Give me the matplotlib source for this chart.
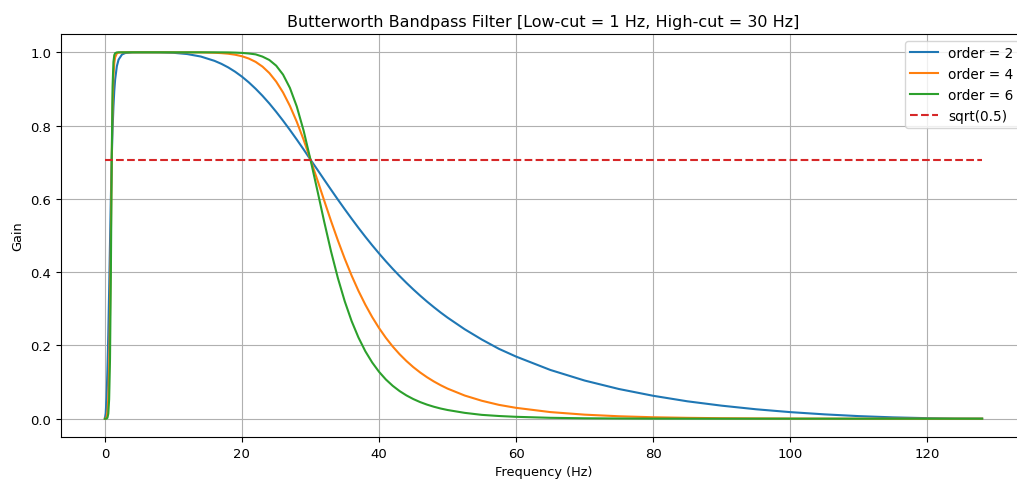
import numpy as np
import matplotlib
matplotlib.use("Agg")
import matplotlib.pyplot as plt

# Sampling rate and cut-off frequencies (Hz)
fs = 256.0
lowcut = 1.0
highcut = 30.0

# Frequency grid (Hz) at which the gain of each filter is tabulated
freq = [0, 0.125, 0.25, 0.375, 0.5, 0.625, 0.75, 0.875, 1, 1.125, 1.25, 1.375, 1.5, 1.75, 2, 2.5, 3,
        4, 5, 6, 8, 10, 12, 14, 16,
        17, 18, 19, 20, 21, 22, 23, 24, 25, 26, 27, 28, 29, 30,
        31, 32, 33, 34, 35, 36, 37, 38, 39, 40, 41, 42, 43, 44, 45, 46, 47, 48, 49, 50,
        52.5, 55, 57.5, 60, 65, 70, 75, 80, 85, 90, 95, 100, 105, 110, 115, 120, 124, 128]

gain_order2 = [0.0, 0.0147, 0.0587, 0.1319, 0.2317, 0.3515, 0.4797, 0.6021, 0.7071, 0.7899,
               0.8512, 0.8953, 0.9259, 0.9621, 0.9800, 0.9941, 0.9982,
               0.9999, 1.0, 1.0, 0.9998, 0.9987, 0.9953, 0.9885, 0.9767,
               0.9686, 0.9588, 0.9471, 0.9336, 0.9180, 0.9005, 0.8813, 0.8603, 0.8375, 0.8134,
               0.7881, 0.7619, 0.7349, 0.7071,
               0.6799, 0.6523, 0.6250, 0.5980, 0.5717, 0.5460, 0.5209, 0.4967, 0.4734, 0.4511,
               0.4296, 0.4090, 0.3894, 0.3707, 0.3529, 0.3359, 0.3197, 0.3044, 0.2897, 0.2759,
               0.2441, 0.2160, 0.1906, 0.1695, 0.1330, 0.1041, 0.0810, 0.0625, 0.0474, 0.0355,
               0.0257, 0.0179, 0.0118, 0.0070, 0.0036, 0.0014, 0.0003, 0.0]

gain_order4 = [0.0, 0.0002, 0.0035, 0.0177, 0.0567, 0.1396, 0.2864, 0.4943, 0.7071, 0.8565,
               0.9347, 0.9705, 0.9864, 0.9968, 0.9992, 0.9999, 1.0,
               1.0, 1.0, 1.0, 1.0, 1.0, 1.0, 0.9997, 0.9988,
               0.9978, 0.9962, 0.9935, 0.9893, 0.9830, 0.9739, 0.9610, 0.9434, 0.9200, 0.8903,
               0.8537, 0.8105, 0.7613, 0.7071,
               0.6520, 0.5954, 0.5396, 0.4865, 0.4366, 0.3907, 0.3489, 0.3113, 0.2775, 0.2475,
               0.2207, 0.1970, 0.1760, 0.1574, 0.1408, 0.1262, 0.1132, 0.1016, 0.0913, 0.0821,
               0.0632, 0.0489, 0.0377, 0.0296, 0.0180, 0.0110, 0.0066, 0.0039, 0.0023, 0.0013,
               0.0007, 0.0003, 0.0001, 0.0, 0.0, 0.0, 0.0, 0.0]

gain_order6 = [0.0, 0.0, 0.0002, 0.0024, 0.0135, 0.0529, 0.1613, 0.3941, 0.7071, 0.9060,
               0.9736, 0.9924, 0.9977, 0.9997, 1.0, 1.0, 1.0,
               1.0, 1.0, 1.0, 1.0, 1.0, 1.0, 1.0, 0.9999,
               0.9999, 0.9997, 0.9992, 0.9984, 0.9968, 0.9944, 0.9883, 0.9790, 0.9635, 0.9391,
               0.9028, 0.8521, 0.7862, 0.7071,
               0.6235, 0.5378, 0.4566, 0.3837, 0.3204, 0.2665, 0.2216, 0.1842, 0.1535, 0.1280,
               0.1070, 0.0897, 0.0754, 0.0635, 0.0536, 0.0453, 0.0384, 0.0326, 0.0277, 0.0237,
               0.0159, 0.0104, 0.0073, 0.0051, 0.0024, 0.0011, 0.0006, 0.0002, 0.0001, 0.0,
               0.0, 0.0, 0.0, 0.0, 0.0, 0.0, 0.0, 0.0]

orders = [2, 4, 6]
gains = [gain_order2, gain_order4, gain_order6]

fig = plt.figure(figsize=(10.17, 4.81), dpi=100)
# The axes run slightly past the right edge of the canvas
ax = fig.add_axes([61 / 1017, 43 / 481, (1026 - 61) / 1017, (438 - 35) / 481])

for order, g in zip(orders, gains):
    ax.plot(freq, g, label="order = %d" % order)

ax.plot([0, 0.5 * fs], [np.sqrt(0.5), np.sqrt(0.5)], "--", label="sqrt(0.5)")

ax.set_xlabel("Frequency (Hz)", fontsize=9.3)
ax.set_ylabel("Gain", fontsize=9.3)
ax.set_title("Butterworth Bandpass Filter [Low-cut = %g Hz, High-cut = %g Hz]" % (lowcut, highcut),
             fontsize=11.5)
ax.tick_params(labelsize=9.5)
ax.grid(True)
ax.legend(loc="best", fontsize=9.8)

fig.savefig("out.png", dpi=100)
